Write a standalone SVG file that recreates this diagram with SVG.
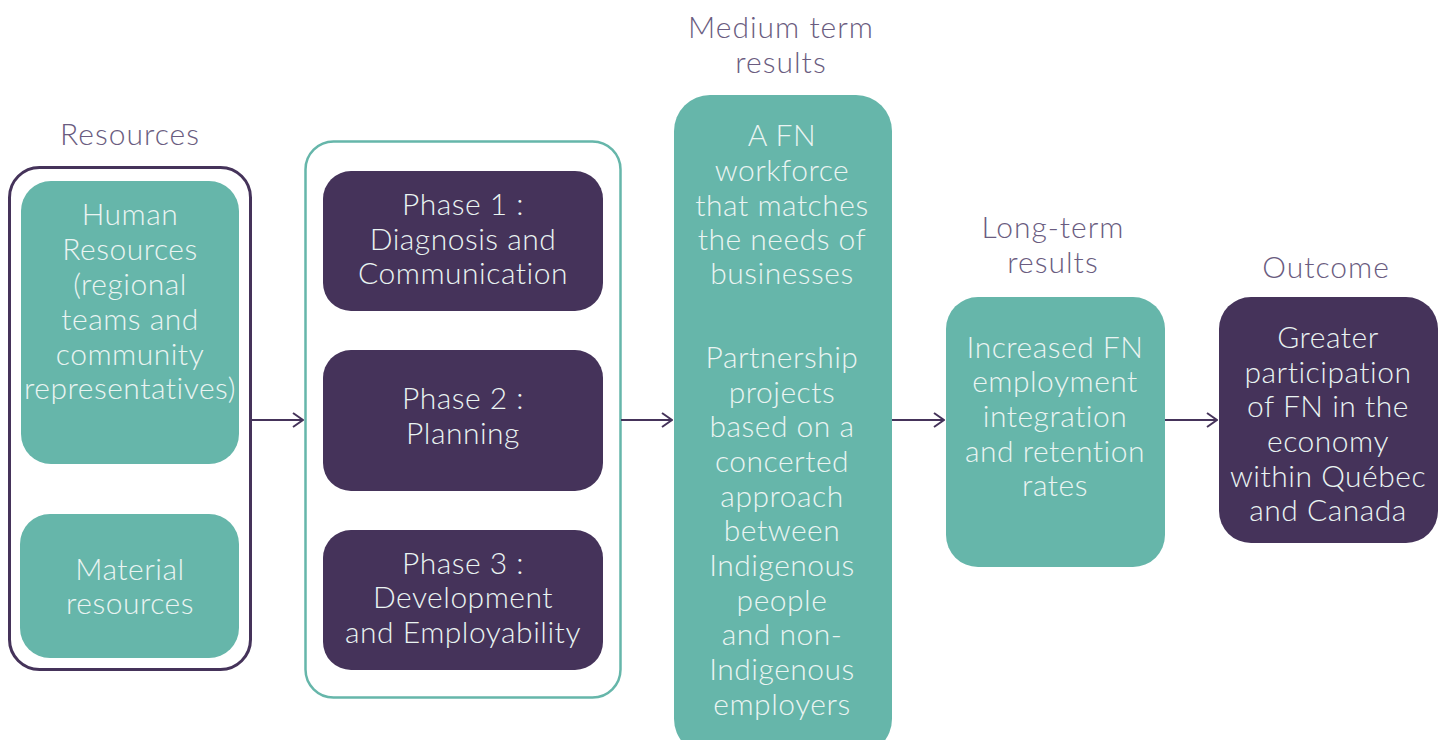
<svg xmlns="http://www.w3.org/2000/svg" width="1445" height="740" viewBox="0 0 1445 740">
<defs>
<style>
.t{font-family:"Lato","Open Sans",sans-serif;font-weight:300;font-size:30px;letter-spacing:0.5px;text-anchor:middle}
.h{fill:#6a5c80;letter-spacing:1px}
.w{fill:#eaf4f2}
.teal{fill:#66b6aa}
.pur{fill:#45335a}
.conn{stroke:#45335a;stroke-width:2;fill:none}
</style>
<marker id="ar" viewBox="0 0 12 16" refX="11" refY="8" markerWidth="12" markerHeight="16" markerUnits="userSpaceOnUse" orient="auto">
<path d="M1,1 L11,8 L1,15" fill="none" stroke="#45335a" stroke-width="2"/>
</marker>
</defs>
<rect width="1445" height="740" fill="#ffffff"/>
<g id="titles">
<text class="t h" x="130" y="145">Resources</text>
<text class="t h" x="781" y="38">Medium term</text>
<text class="t h" x="781" y="73">results</text>
<text class="t h" x="1053" y="238">Long-term</text>
<text class="t h" x="1053" y="273">results</text>
<text class="t h" x="1326" y="278">Outcome</text>
</g>
<g id="resources">
<rect x="9.5" y="167.5" width="241" height="502" rx="30" fill="none" stroke="#45335a" stroke-width="3"/>
</g>
<g id="human">
<rect class="teal" x="21" y="181" width="218" height="283" rx="30"/>
<text class="t w"><tspan x="130" y="225">Human</tspan><tspan x="130" y="260">Resources</tspan><tspan x="130" y="295">(regional</tspan><tspan x="130" y="330">teams and</tspan><tspan x="130" y="365">community</tspan><tspan x="130" y="399">representatives)</tspan></text>
</g>
<g id="material">
<rect class="teal" x="20" y="514" width="219" height="144" rx="30"/>
<text class="t w"><tspan x="130" y="580">Material</tspan><tspan x="130" y="614">resources</tspan></text>
</g>
<g id="phases">
<rect x="305.5" y="141.5" width="315" height="556" rx="28" fill="none" stroke="#66b6aa" stroke-width="2.5"/>
</g>
<g id="phase1">
<rect class="pur" x="323" y="171" width="280" height="140" rx="28"/>
<text class="t w"><tspan x="463" y="215">Phase 1 :</tspan><tspan x="463" y="250">Diagnosis and</tspan><tspan x="463" y="284">Communication</tspan></text>
</g>
<g id="phase2">
<rect class="pur" x="323" y="350" width="280" height="141" rx="28"/>
<text class="t w"><tspan x="463" y="409">Phase 2 :</tspan><tspan x="463" y="444">Planning</tspan></text>
</g>
<g id="phase3">
<rect class="pur" x="323" y="530" width="280" height="140" rx="28"/>
<text class="t w"><tspan x="463" y="574">Phase 3 :</tspan><tspan x="463" y="608">Development</tspan><tspan x="463" y="643">and Employability</tspan></text>
</g>
<g id="medium">
<rect class="teal" x="674" y="95" width="218" height="660" rx="36"/>
<text class="t w"><tspan x="782" y="146">A FN</tspan><tspan x="782" y="181">workforce</tspan><tspan x="782" y="216">that matches</tspan><tspan x="782" y="250">the needs of</tspan><tspan x="782" y="284">businesses</tspan><tspan x="782" y="368">Partnership</tspan><tspan x="782" y="403">projects</tspan><tspan x="782" y="437">based on a</tspan><tspan x="782" y="472">concerted</tspan><tspan x="782" y="507">approach</tspan><tspan x="782" y="541">between</tspan><tspan x="782" y="576">Indigenous</tspan><tspan x="782" y="611">people</tspan><tspan x="782" y="645">and non-</tspan><tspan x="782" y="680">Indigenous</tspan><tspan x="782" y="715">employers</tspan></text>
</g>
<g id="longterm">
<rect class="teal" x="946" y="297" width="219" height="270" rx="32"/>
<text class="t w"><tspan x="1055" y="358">Increased FN</tspan><tspan x="1055" y="392">employment</tspan><tspan x="1055" y="427">integration</tspan><tspan x="1055" y="462">and retention</tspan><tspan x="1055" y="496">rates</tspan></text>
</g>
<g id="outcome">
<rect class="pur" x="1219" y="297" width="219" height="246" rx="32"/>
<text class="t w"><tspan x="1328" y="348">Greater</tspan><tspan x="1328" y="383">participation</tspan><tspan x="1328" y="417">of FN in the</tspan><tspan x="1328" y="452">economy</tspan><tspan x="1328" y="487">within Québec</tspan><tspan x="1328" y="521">and Canada</tspan></text>
</g>
<g id="connectors">
<line class="conn" x1="251" y1="420" x2="303" y2="420" marker-end="url(#ar)"/>
<line class="conn" x1="621" y1="420" x2="672" y2="420" marker-end="url(#ar)"/>
<line class="conn" x1="892" y1="420" x2="944" y2="420" marker-end="url(#ar)"/>
<line class="conn" x1="1165" y1="420" x2="1217" y2="420" marker-end="url(#ar)"/>
</g>
</svg>
